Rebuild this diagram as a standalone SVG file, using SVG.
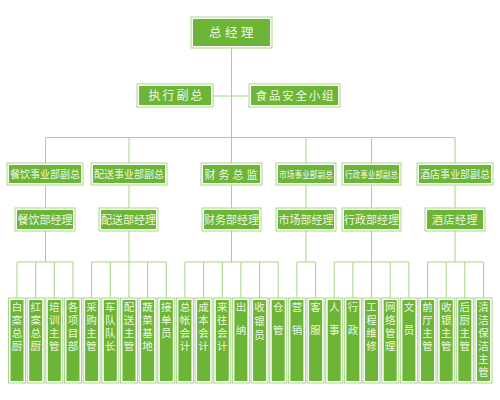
<svg xmlns="http://www.w3.org/2000/svg" width="500" height="400" viewBox="0 0 500 400">
<style>
.o{fill:#ffffff;stroke:#a9d68a;stroke-width:1}
.i{fill:#6cb536}
.t{fill:#eef8e4;font-family:"Noto Sans CJK SC","Noto Sans CJK JP",sans-serif;text-anchor:middle}
.v{fill:#eef8e4;font-family:"Noto Sans CJK SC","Noto Sans CJK JP",sans-serif;font-size:10.5px;writing-mode:vertical-rl;text-orientation:upright;letter-spacing:2.5px}
.v2{letter-spacing:12.5px}
.v3{letter-spacing:3.5px}
.c{stroke:#a6d484;stroke-width:1;fill:none}
</style>
<rect width="500" height="400" fill="#ffffff"/>
<g id="connectors" class="c">
<path d="M231.5 48V137.5M213 96H249M45.5 137.5H455M45.5 137.5V163M129 137.5V163M231.5 137.5V163M306 137.5V163M371.5 137.5V163M455 137.5V163"/>
<path d="M45.5 185V208M129 185V208M231.5 185V208M306 185V208M371.5 185V208M455 185V208"/>
<path d="M45.5 231V262M129 231V262M231.5 231V262M306 231V262M371.5 231V262M455 231V262"/>
<path d="M17 262H73M91.6 262H166.3M184.9 262H278.2M296.9 262H315.6M334.2 262H408.9M427.5 262H483.5"/>
<path d="M17 262V298M35.7 262V298M54.3 262V298M73 262V298M91.6 262V298M110.3 262V298M129 262V298M147.6 262V298M166.3 262V298M184.9 262V298M203.6 262V298M222.3 262V298M240.9 262V298M259.6 262V298M278.2 262V298M296.9 262V298M315.6 262V298M334.2 262V298M352.9 262V298M371.5 262V298M390.2 262V298M408.9 262V298M427.5 262V298M446.2 262V298M464.8 262V298M483.5 262V298"/>
</g>
<g id="n_gm"><rect class="o" x="191" y="17" width="81" height="31"/><rect class="i" x="193" y="19" width="77" height="27"/><text class="t" x="233" y="37" font-size="12.5" letter-spacing="3.5">总经理</text></g>
<g id="n_exec"><rect class="o" x="137" y="84" width="76" height="23"/><rect class="i" x="139" y="86" width="72" height="19"/><text class="t" x="176.5" y="100" font-size="12" letter-spacing="2">执行副总</text></g>
<g id="n_food"><rect class="o" x="249" y="84" width="91" height="23"/><rect class="i" x="251" y="86" width="87" height="19"/><text class="t" x="295.5" y="100" font-size="11.5" letter-spacing="1.8">食品安全小组</text></g>

<g id="n_cy"><rect class="o" x="7" y="163" width="76" height="22"/><rect class="i" x="9" y="165" width="72" height="18"/><text class="t" x="45" y="178" font-size="10">餐饮事业部副总</text></g>
<g id="n_ps"><rect class="o" x="91" y="163" width="76" height="22"/><rect class="i" x="93" y="165" width="72" height="18"/><text class="t" x="129" y="178" font-size="10">配送事业部副总</text></g>
<g id="n_cw"><rect class="o" x="201" y="163" width="61" height="22"/><rect class="i" x="203" y="165" width="57" height="18"/><text class="t" x="232.5" y="178.5" font-size="11" letter-spacing="3">财务总监</text></g>
<g id="n_sc"><rect class="o" x="276" y="163" width="60" height="22"/><rect class="i" x="278" y="165" width="56" height="18"/><text class="t" x="306" y="178" font-size="9.5" textLength="54" lengthAdjust="spacingAndGlyphs">市场事业部副总</text></g>
<g id="n_xz"><rect class="o" x="342" y="163" width="59" height="22"/><rect class="i" x="344" y="165" width="55" height="18"/><text class="t" x="371.5" y="178" font-size="9.5" textLength="53" lengthAdjust="spacingAndGlyphs">行政事业部副总</text></g>
<g id="n_jd"><rect class="o" x="417" y="163" width="76" height="22"/><rect class="i" x="419" y="165" width="72" height="18"/><text class="t" x="455" y="178" font-size="10">酒店事业部副总</text></g>

<g id="n_cym"><rect class="o" x="15" y="208" width="60" height="23"/><rect class="i" x="17" y="210" width="56" height="19"/><text class="t" x="45" y="224" font-size="11">餐饮部经理</text></g>
<g id="n_psm"><rect class="o" x="99" y="208" width="59" height="23"/><rect class="i" x="101" y="210" width="55" height="19"/><text class="t" x="128.5" y="224" font-size="11">配送部经理</text></g>
<g id="n_cwm"><rect class="o" x="202" y="208" width="59" height="23"/><rect class="i" x="204" y="210" width="55" height="19"/><text class="t" x="231.5" y="224" font-size="11">财务部经理</text></g>
<g id="n_scm"><rect class="o" x="276" y="208" width="60" height="23"/><rect class="i" x="278" y="210" width="56" height="19"/><text class="t" x="306" y="224" font-size="11">市场部经理</text></g>
<g id="n_xzm"><rect class="o" x="342" y="208" width="59" height="23"/><rect class="i" x="344" y="210" width="55" height="19"/><text class="t" x="371.5" y="224" font-size="11">行政部经理</text></g>
<g id="n_jdm"><rect class="o" x="425" y="208" width="60" height="23"/><rect class="i" x="427" y="210" width="56" height="19"/><text class="t" x="455" y="224" font-size="11" letter-spacing="0.5">酒店经理</text></g>

<g id="leaves">
<g id="l0"><rect class="o" x="8.5" y="298" width="17" height="85"/><rect class="i" x="10.5" y="300" width="13" height="81"/><text class="v" x="17" y="302">白案总厨</text></g>
<g id="l1"><rect class="o" x="27.2" y="298" width="17" height="85"/><rect class="i" x="29.2" y="300" width="13" height="81"/><text class="v" x="35.7" y="302">红案总厨</text></g>
<g id="l2"><rect class="o" x="45.8" y="298" width="17" height="85"/><rect class="i" x="47.8" y="300" width="13" height="81"/><text class="v" x="54.3" y="302">培训主管</text></g>
<g id="l3"><rect class="o" x="64.5" y="298" width="17" height="85"/><rect class="i" x="66.5" y="300" width="13" height="81"/><text class="v" x="73" y="302">各项目部</text></g>
<g id="l4"><rect class="o" x="83.1" y="298" width="17" height="85"/><rect class="i" x="85.1" y="300" width="13" height="81"/><text class="v" x="91.6" y="302">采购主管</text></g>
<g id="l5"><rect class="o" x="101.8" y="298" width="17" height="85"/><rect class="i" x="103.8" y="300" width="13" height="81"/><text class="v" x="110.3" y="302">车队队长</text></g>
<g id="l6"><rect class="o" x="120.5" y="298" width="17" height="85"/><rect class="i" x="122.5" y="300" width="13" height="81"/><text class="v" x="129" y="302">配送主管</text></g>
<g id="l7"><rect class="o" x="139.1" y="298" width="17" height="85"/><rect class="i" x="141.1" y="300" width="13" height="81"/><text class="v" x="147.6" y="302">蔬菜基地</text></g>
<g id="l8"><rect class="o" x="157.8" y="298" width="17" height="85"/><rect class="i" x="159.8" y="300" width="13" height="81"/><text class="v" x="166.3" y="302">接单员</text></g>
<g id="l9"><rect class="o" x="176.4" y="298" width="17" height="85"/><rect class="i" x="178.4" y="300" width="13" height="81"/><text class="v" x="184.9" y="302">总帐会计</text></g>
<g id="l10"><rect class="o" x="195.1" y="298" width="17" height="85"/><rect class="i" x="197.1" y="300" width="13" height="81"/><text class="v" x="203.6" y="302">成本会计</text></g>
<g id="l11"><rect class="o" x="213.8" y="298" width="17" height="85"/><rect class="i" x="215.8" y="300" width="13" height="81"/><text class="v" x="222.3" y="302">来往会计</text></g>
<g id="l12"><rect class="o" x="232.4" y="298" width="17" height="85"/><rect class="i" x="234.4" y="300" width="13" height="81"/><text class="v v2" x="240.9" y="302">出纳</text></g>
<g id="l13"><rect class="o" x="251.1" y="298" width="17" height="85"/><rect class="i" x="253.1" y="300" width="13" height="81"/><text class="v v3" x="259.6" y="302">收银员</text></g>
<g id="l14"><rect class="o" x="269.7" y="298" width="17" height="85"/><rect class="i" x="271.7" y="300" width="13" height="81"/><text class="v v2" x="278.2" y="302">仓管</text></g>
<g id="l15"><rect class="o" x="288.4" y="298" width="17" height="85"/><rect class="i" x="290.4" y="300" width="13" height="81"/><text class="v v2" x="296.9" y="302">营销</text></g>
<g id="l16"><rect class="o" x="307.1" y="298" width="17" height="85"/><rect class="i" x="309.1" y="300" width="13" height="81"/><text class="v v2" x="315.6" y="302">客服</text></g>
<g id="l17"><rect class="o" x="325.7" y="298" width="17" height="85"/><rect class="i" x="327.7" y="300" width="13" height="81"/><text class="v v2" x="334.2" y="302">人事</text></g>
<g id="l18"><rect class="o" x="344.4" y="298" width="17" height="85"/><rect class="i" x="346.4" y="300" width="13" height="81"/><text class="v v2" x="352.9" y="302">行政</text></g>
<g id="l19"><rect class="o" x="363" y="298" width="17" height="85"/><rect class="i" x="365" y="300" width="13" height="81"/><text class="v" x="371.5" y="302">工程维修</text></g>
<g id="l20"><rect class="o" x="381.7" y="298" width="17" height="85"/><rect class="i" x="383.7" y="300" width="13" height="81"/><text class="v" x="390.2" y="302">网络管理</text></g>
<g id="l21"><rect class="o" x="400.4" y="298" width="17" height="85"/><rect class="i" x="402.4" y="300" width="13" height="81"/><text class="v v2" x="408.9" y="302">文员</text></g>
<g id="l22"><rect class="o" x="419" y="298" width="17" height="85"/><rect class="i" x="421" y="300" width="13" height="81"/><text class="v" x="427.5" y="302">前厅主管</text></g>
<g id="l23"><rect class="o" x="437.7" y="298" width="17" height="85"/><rect class="i" x="439.7" y="300" width="13" height="81"/><text class="v" x="446.2" y="302">收银主管</text></g>
<g id="l24"><rect class="o" x="456.3" y="298" width="17" height="85"/><rect class="i" x="458.3" y="300" width="13" height="81"/><text class="v" x="464.8" y="302">后厨主管</text></g>
<g id="l25"><rect class="o" x="475" y="298" width="17" height="85"/><rect class="i" x="477" y="300" width="13" height="81"/><text class="v" x="483.5" y="302">清洁保洁主管</text></g>
</g>
</svg>
